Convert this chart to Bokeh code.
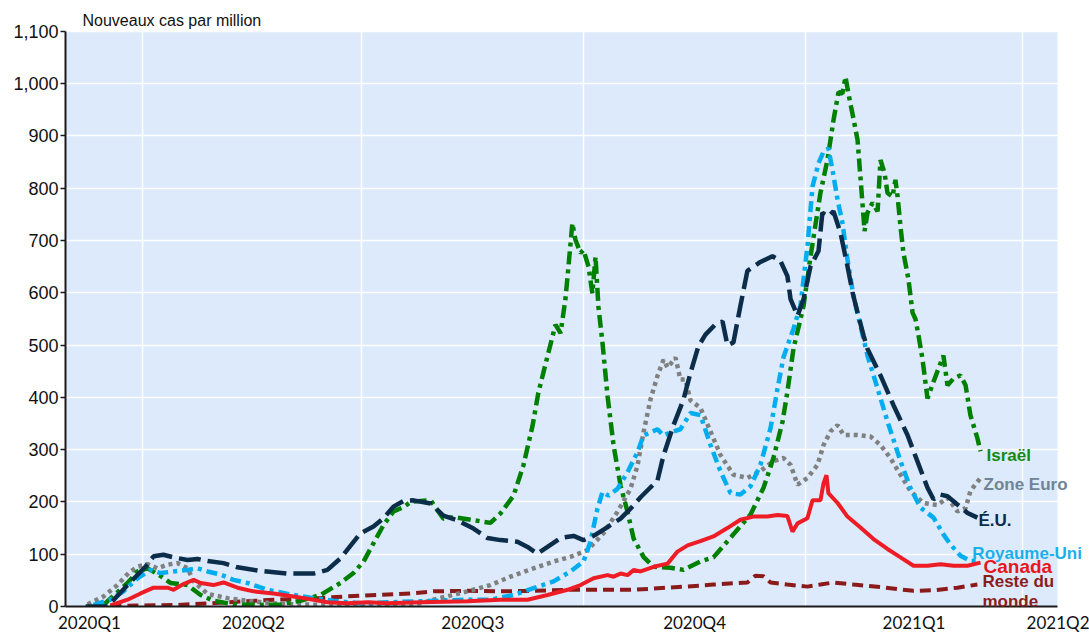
from bokeh.plotting import figure
from bokeh.models import FixedTicker, NumeralTickFormatter, Label, Range1d, BoxAnnotation
from bokeh.embed import file_html
from bokeh.resources import INLINE

# x values: days since 2020-01-01 ; y values: new cases per million (7-day avg)
US = [(67.4,0),(76.5,0),(84.8,41),(92.2,76),(95.6,96),(99.7,99),(103.9,94),(109.7,89),(113.8,91),(118.0,87),
      (124.6,83),(130.4,75),(139.9,68),(151.1,63),(161.9,63),(167.7,70),(173.1,92),(181.4,140),(186.8,153),
      (191.0,169),(195.1,191),(199.3,202),(203.4,203),(210.5,197),(215.8,174),(221.6,165),(228.3,149),
      (234.1,131),(239.5,127),(246.5,124),(250.7,114),(254.8,101),(259.0,114),(264.4,131),(269.8,135),
      (273.9,127),(278.1,135),(283.9,152),(289.3,168),(293.4,187),(297.6,209),(304.6,241),(307.1,289),
      (311.2,346),(315.4,396),(318.3,447),(321.6,498),(324.5,520),(328.7,540),(331.6,545),(333.6,500),
      (336.1,505),(339.0,575),(341.9,642),(347.3,659),(352.3,670),(355.6,661),(358.5,632),(359.8,588),
      (362.7,556),(365.2,588),(368.1,651),(371.4,680),(373.0,753),(375.5,746),(377.6,756),(380.5,715),
      (383.4,651),(385.5,601),(387.6,562),(390.1,518),(391.7,493),(397.1,442),(402.5,385),(408.3,328),
      (412.4,278),(416.6,227),(419.1,205),(422.0,214),(424.9,211),(429.0,195),(433.2,179),(437.3,170)]

ISRAEL = [(74.8,3),(84.8,45),(88.9,67),(93.1,73),(97.6,61),(102.6,45),(109.7,41),(115.1,22),(120.4,11),
          (128.7,4),(139.9,3),(148.2,4),(156.5,11),(164.8,22),(173.1,45),(178.5,64),(182.7,86),(186.8,121),
          (191.0,156),(195.1,182),(199.3,190),(202.2,200),(206.3,202),(210.5,203),(215.8,168),(220.0,171),
          (225.8,167),(235.3,160),(239.5,178),(244.9,212),(249.0,270),(252.8,346),(255.2,409),(259.0,479),
          (262.3,539),(264.4,523),(266.4,587),(267.3,631),(269.3,733),(270.6,701),(272.7,676),(273.9,682),
          (276.0,650),(277.6,599),(278.9,669),(280.1,574),(281.8,504),(283.9,402),(286.4,308),(289.3,231),
          (292.2,181),(294.7,130),(298.8,95),(303.0,76),(310.0,74),(315.4,70),(322.4,86),(327.8,94),
          (336.1,138),(343.2,176),(348.6,227),(352.7,284),(356.5,354),(358.5,411),(361.0,493),(365.2,575),
          (368.1,670),(372.2,791),(375.1,854),(377.6,930),(379.7,984),(381.3,981),(382.6,1013),(383.8,981),
          (385.9,933),(387.6,892),(389.2,797),(390.5,718),(391.7,753),(393.8,772),(395.9,756),(397.1,854),
          (398.8,829),(400.0,791),(402.1,784),(403.3,816),(404.2,784),(405.4,727),(406.6,677),(408.7,626),
          (410.4,562),(411.6,550),(412.9,518),(414.5,474),(416.6,398),(419.1,430),(423.2,480),(424.9,423),
          (427.4,436),(430.3,442),(432.4,423),(434.4,366),(437.3,322),(438.6,297)]

EURO = [(68.2,4),(74.8,19),(80.6,41),(85.2,64),(88.9,76),(93.1,81),(97.2,73),(101.4,80),(105.5,83),(109.7,73),
        (112.2,48),(118.0,24),(126.3,16),(134.5,11),(145.3,6),(156.5,4),(167.7,3),(181.4,3),(195.1,4),
        (206.3,6),(211.7,13),(225.8,29),(235.3,41),(243.6,57),(253.2,73),(261.5,86),(268.5,95),(275.6,108),
        (282.2,140),(288.0,181),(293.4,225),(296.3,269),(298.8,333),(301.7,396),(304.6,441),(307.1,472),
        (308.8,457),(312.1,476),(314.1,434),(316.2,434),(318.3,394),(322.4,380),(326.6,335),(330.7,290),
        (336.1,252),(341.9,246),(347.3,259),(352.7,278),(356.9,284),(359.8,271),(362.7,233),(366.8,246),
        (371.0,271),(373.5,309),(376.4,335),(379.3,347),(381.8,328),(387.6,328),(393.0,325),(397.1,309),
        (401.2,284),(405.4,252),(409.5,221),(414.9,198),(420.7,194),(424.9,208),(429.0,182),(432.4,188),
        (434.4,221),(438.6,246)]

UK = [(70.7,3),(77.7,13),(83.1,29),(88.9,54),(94.3,70),(98.5,64),(103.9,67),(109.7,70),(113.8,73),(118.0,67),
      (123.4,61),(128.7,51),(134.5,45),(142.8,32),(153.6,22),(161.9,16),(170.2,11),(181.4,6),(192.6,8),
      (206.3,10),(225.8,13),(235.3,13),(244.9,22),(253.2,35),(261.5,48),(268.5,67),(273.9,86),(276.8,124),
      (279.7,187),(281.8,219),(284.3,212),(288.0,225),(292.2,257),(296.3,295),(298.8,327),(304.6,339),
      (307.1,327),(310.0,333),(314.1,339),(318.3,370),(322.4,366),(326.6,309),(330.7,259),(334.9,217),
      (339.0,214),(343.2,230),(347.3,271),(351.5,341),(354.4,417),(356.9,477),(361.0,531),(363.9,575),
      (366.8,689),(368.9,803),(371.4,848),(373.5,870),(375.5,876),(377.2,835),(379.3,778),(381.3,734),
      (383.4,664),(385.9,594),(388.8,537),(391.7,480),(395.9,417),(400.0,354),(405.4,278),(409.5,227),
      (413.7,189),(419.1,170),(423.2,138),(426.1,119),(430.3,97),(434.4,87),(437.7,87)]

CANADA = [(77.7,2),(84.8,13),(90.2,25),(95.6,36),(101.4,36),(103.9,32),(108.0,43),(112.2,51),(115.1,45),
          (120.4,41),(124.6,46),(130.4,36),(137.0,29),(145.3,25),(153.6,19),(161.9,13),(167.7,8),(176.0,6),
          (184.3,8),(192.6,6),(206.3,8),(225.8,10),(239.5,13),(250.7,13),(259.0,22),(267.3,32),(272.7,41),
          (278.1,54),(283.9,60),(286.4,57),(289.3,63),(292.2,60),(294.7,70),(297.6,67),(303.0,76),(308.8,82),
          (312.9,105),(317.1,117),(322.4,125),(327.8,134),(333.6,150),(339.0,166),(344.4,172),(350.2,172),
          (354.4,175),(358.5,173),(360.6,143),(362.7,159),(366.8,169),(368.9,203),(372.2,203),(373.5,236),
          (374.7,251),(375.5,217),(379.3,198),(383.4,172),(388.8,151),(394.2,129),(400.0,110),(405.4,94),
          (410.8,78),(416.6,78),(422.0,81),(427.4,78),(433.2,78),(438.6,84)]

REST = [(77.7,1),(91.4,2),(105.5,3),(119.2,6),(132.9,10),(147.0,13),(160.7,15),(174.4,19),(188.5,22),
        (202.2,25),(211.7,29),(225.8,30),(239.5,29),(253.2,30),(267.3,32),(281.0,32),(294.7,32),(308.8,36),
        (322.4,40),(327.8,42),(341.9,46),(345.2,59),(348.6,58),(351.5,46),(358.5,42),(366.8,38),(372.2,42),
        (377.6,46),(385.9,42),(397.1,37),(410.8,30),(419.1,31),(429.0,36),(437.3,42)]

Y_TICKS = [0, 100, 200, 300, 400, 500, 600, 700, 800, 900, 1000, 1100]
QUARTER_LABELS = ["2020Q1", "2020Q2", "2020Q3", "2020Q4", "2021Q1", "2021Q2"]
QUARTER_LABEL_DAYS = [69, 137, 228, 320, 411, 472]
QUARTER_STARTS = [91, 182, 274, 366, 456]
TITLE = "Nouveaux cas par million"

# plotted area (light blue) and the full frame (extends to canvas top/right for outside labels)
X_START, X_BG_END, X_FRAME_END = 59.06, 470.5, 483.8
Y_TOP, Y_FRAME_END = 1100, 1159.1
TITLE_Y = 1121

p = figure(width=1089, height=635, x_range=Range1d(X_START, X_FRAME_END), y_range=Range1d(0, Y_FRAME_END),
           output_backend="svg", toolbar_location=None,
           min_border_left=65, min_border_right=0, min_border_top=0, min_border_bottom=27)
p.background_fill_color = "white"
p.border_fill_color = "white"
p.outline_line_color = None

p.add_layout(BoxAnnotation(left=X_START, right=X_BG_END, bottom=0, top=Y_TOP,
                           fill_color="#DDEAFB", fill_alpha=1, line_color=None, level="image"))

# grid
p.xgrid.ticker = FixedTicker(ticks=QUARTER_STARTS)
p.ygrid.ticker = FixedTicker(ticks=Y_TICKS)
for g in (p.xgrid, p.ygrid):
    g.grid_line_color = "white"
    g.grid_line_width = 1.5

# y axis
p.yaxis.ticker = FixedTicker(ticks=Y_TICKS)
p.yaxis.formatter = NumeralTickFormatter(format="0,0")
p.yaxis.bounds = (0, Y_TOP)
p.yaxis.major_tick_out = 5
p.yaxis.major_tick_in = 0
p.yaxis.minor_tick_out = 0
p.yaxis.minor_tick_in = 0
p.yaxis.axis_line_width = 2
p.yaxis.axis_line_color = "#1a1a1a"
p.yaxis.major_tick_line_color = "#1a1a1a"
p.yaxis.major_tick_line_width = 1.5
p.yaxis.major_label_text_font = "Liberation Sans"
p.yaxis.major_label_text_font_size = "18px"
p.yaxis.major_label_text_color = "#111111"
p.yaxis.major_label_standoff = 2

# x axis
p.xaxis.ticker = FixedTicker(ticks=QUARTER_LABEL_DAYS)
p.xaxis.major_label_overrides = dict(zip(QUARTER_LABEL_DAYS, QUARTER_LABELS))
p.xaxis.bounds = (X_START, X_BG_END)
p.xaxis.major_tick_out = 0
p.xaxis.major_tick_in = 0
p.xaxis.minor_tick_out = 0
p.xaxis.minor_tick_in = 0
p.xaxis.axis_line_width = 2
p.xaxis.axis_line_color = "#1a1a1a"
p.xaxis.major_label_text_font = "Lato"
p.xaxis.major_label_text_font_size = "17px"
p.xaxis.major_label_text_color = "#111111"
p.xaxis.major_label_standoff = 5

series = [
    (REST,   "#8B1A1A", "11 6",       4),
    (EURO,   "#808080", "4 4",        4.5),
    (ISRAEL, "#008000", "13 5 4 5",   4.5),
    (UK,     "#00AEEF", "11 5 4 5",   4.5),
    (US,     "#0B2D4A", "22 7",       4.5),
    (CANADA, "#EE1C25", "solid",      4),
]
for pts, color, dash, w in series:
    xs = [d for d, _ in pts]
    ys = [v for _, v in pts]
    p.line(xs, ys, line_color=color, line_width=w, line_dash=dash)

# end-of-line labels: (text, series, colour, label level, x offset px, font size)
end_labels = [
    ("Israël",      ISRAEL, "#138A13", 288, 6,  "17px"),
    ("Zone Euro",   EURO,   "#6F8595", 234, 3,  "17px"),
    ("É.U.",        US,     "#0B2D4A", 164, 1,  "17px"),
    ("Royaume-Uni", UK,     "#19B0EE", 101, -6, "17px"),
    ("Canada",      CANADA, "#E8161E", 76,  3,  "19px"),
    ("Reste du",    REST,   "#8B1D1D", 48,  5,  "17px"),
    ("monde",       REST,   "#8B1D1D", 10,  5,  "17px"),
]
for text, pts, color, level, xo, fs in end_labels:
    p.add_layout(Label(x=pts[-1][0], y=level, x_offset=xo, text=text, text_color=color,
                       text_font="Liberation Sans", text_font_style="bold", text_font_size=fs,
                       text_baseline="middle", text_align="left"))

p.add_layout(Label(x=X_START, y=TITLE_Y, x_offset=17, text=TITLE,
                   text_font="Liberation Sans", text_font_size="16px", text_color="#111111",
                   text_baseline="alphabetic", text_align="left"))

open("out.html", "w").write(file_html(p, INLINE))
